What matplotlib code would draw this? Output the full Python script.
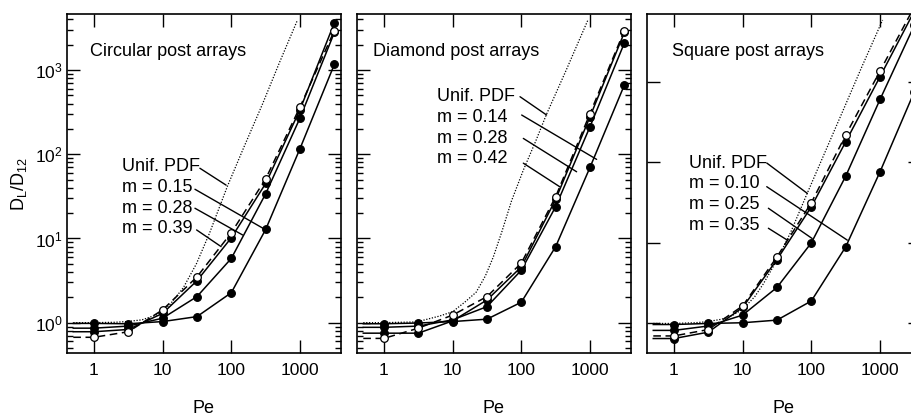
import matplotlib
matplotlib.use("Agg")
import matplotlib.pyplot as plt
from matplotlib.ticker import LogLocator, NullLocator, NullFormatter, FixedLocator

plt.rcParams['font.family'] = ['Liberation Sans', 'DejaVu Sans']
plt.rcParams['mathtext.fontset'] = 'custom'
plt.rcParams['mathtext.rm'] = 'Liberation Sans'
plt.rcParams['mathtext.it'] = 'Liberation Sans'

# Peclet numbers of the simulated points
pe = [1, 3.162, 10, 31.62, 100, 316.2, 1000, 3162]

# circular post arrays
circ_open = [0.67, 0.78, 1.42, 3.5, 11.7, 51, 365, 2950]
circ_m039 = [0.78, 0.83, 1.29, 3.15, 10.2, 45, 340, 3650]
circ_m028 = [0.86, 0.91, 1.13, 2.04, 5.8, 34, 270, 2800]
circ_m015 = [0.98, 0.97, 1.03, 1.18, 2.27, 12.8, 117, 1170]
circ_unif_pe = [0.5, 1, 2, 3, 5, 8, 12.6, 20, 31, 48, 65, 88, 150, 286, 500, 920]
circ_unif = [1.0, 1.0, 1.01, 1.03, 1.08, 1.23, 1.62, 2.6, 5.0, 11.5, 22, 42, 118, 400, 1220, 3950]
circ_labels = ['Unif. PDF', 'm = 0.15', 'm = 0.28', 'm = 0.39']
circ_targets = [(84, 43), (320, 12.6), (146, 11), (71, 8.0)]

# diamond post arrays
diam_open = [0.65, 0.86, 1.23, 2.04, 5.1, 31.4, 305, 2950]
diam_m042 = [0.75, 0.75, 1.05, 1.86, 4.6, 29.2, 280, 2800]
diam_m028 = [0.88, 0.91, 1.08, 1.55, 4.2, 23.9, 213, 2100]
diam_m014 = [0.97, 0.99, 1.03, 1.10, 1.75, 8.0, 70, 665]
diam_unif_pe = [0.5, 1, 3, 6.5, 10, 15, 22, 30, 39, 52, 72, 107, 160, 233, 450, 940]
diam_unif = [1.0, 1.0, 1.02, 1.2, 1.35, 1.75, 2.3, 3.6, 6.0, 12, 28, 65, 140, 300, 1000, 4000]
diam_labels = ['Unif. PDF', 'm = 0.14', 'm = 0.28', 'm = 0.42']
diam_targets = [(233, 293), (1248, 87), (638, 62), (365, 41)]

# square post arrays
sq_open = [0.70, 0.84, 1.65, 6.7, 31.4, 217, 1350, 8500]
sq_m035 = [0.65, 0.78, 1.58, 6.2, 28, 179, 1150, 7500]
sq_m025 = [0.82, 0.93, 1.27, 2.8, 10.0, 67, 600, 5000]
sq_m010 = [0.97, 1.0, 1.02, 1.1, 1.9, 8.9, 76, 750]
sq_unif_pe = [0.5, 1, 2, 3, 5, 7, 10, 15, 20, 31.6, 50, 88, 150, 300, 550, 1090]
sq_unif = [1.0, 1.0, 1.02, 1.05, 1.13, 1.25, 1.5, 2.15, 3.1, 6.1, 13.5, 42, 120, 470, 1560, 5800]
sq_labels = ['Unif. PDF', 'm = 0.10', 'm = 0.25', 'm = 0.35']
sq_targets = [(87.5, 41), (334, 10.8), (103, 11.3), (44.7, 10.8)]

PE_START = 0.5


def draw_series(ax, vals, filled=True, ls='-'):
    xs = [PE_START] + pe
    ys = [vals[0]] + vals
    ax.plot(xs, ys, color='black', lw=1.1, ls=ls, zorder=2)
    ax.plot(pe, vals, ls='none', marker='o', ms=5.5, mec='black', mew=0.9,
            mfc='black' if filled else 'white', zorder=3)


def draw_panel(ax, title, title_x, open_vals, filled_sets, unif_pe, unif,
               labels, targets, text_xy, lead_starts, ylim, minor_y=True):
    ax.plot(unif_pe, unif, color='black', lw=0.9, ls=(0, (1, 1.3)), zorder=2)
    for vals in filled_sets:
        draw_series(ax, vals)
    draw_series(ax, open_vals, filled=False, ls=(0, (5, 3)))

    ax.set_xscale('log')
    ax.set_yscale('log')
    ax.set_xlim(0.405, 3950)
    ax.set_ylim(*ylim)

    ax.xaxis.set_major_locator(FixedLocator([1, 10, 100, 1000]))
    ax.set_xticklabels(['1', '10', '100', '1000'])
    ax.xaxis.set_minor_locator(NullLocator())
    ax.yaxis.set_major_locator(LogLocator(base=10))
    if minor_y:
        ax.yaxis.set_minor_locator(LogLocator(base=10, subs=range(2, 10)))
    else:
        ax.yaxis.set_minor_locator(NullLocator())
    ax.yaxis.set_minor_formatter(NullFormatter())
    ax.tick_params(which='both', direction='in', top=True, right=True, width=1.0)
    ax.tick_params(which='major', length=9.5)
    ax.tick_params(which='minor', length=4.5)
    ax.tick_params(axis='x', labelsize=12.5, pad=7)
    ax.tick_params(axis='y', labelsize=12.5, pad=3)
    for sp in ax.spines.values():
        sp.set_linewidth(1.2)

    ax.set_xlabel('Pe', fontsize=13, labelpad=16)
    ax.text(title_x, 0.89, title, transform=ax.transAxes, fontsize=13,
            va='center', ha='left')

    tx, ty = text_xy
    for i, lab in enumerate(labels):
        ax.text(tx, ty - i * 0.061, lab, transform=ax.transAxes, fontsize=13,
                va='center', ha='left')
        ax.annotate('', xy=targets[i], xycoords='data',
                    xytext=lead_starts[i], textcoords='axes fraction',
                    arrowprops=dict(arrowstyle='-', color='black', lw=1.0,
                                    shrinkA=0, shrinkB=0))


fig = plt.figure(figsize=(9.12, 4.17), dpi=100)
w, h, b = 274 / 912, 339 / 417, 1 - 353 / 417
ax1 = fig.add_axes([67 / 912, b, w, h])
ax2 = fig.add_axes([357 / 912, b, w, h])
ax3 = fig.add_axes([647 / 912, b, w, h])

draw_panel(ax1, 'Circular post arrays', 0.084, circ_open,
           [circ_m039, circ_m028, circ_m015], circ_unif_pe, circ_unif,
           circ_labels, circ_targets, (0.2, 0.549),
           [(0.485, 0.545), (0.467, 0.483), (0.467, 0.427), (0.473, 0.363)],
           (0.436, 4640))
draw_panel(ax2, 'Diamond post arrays', 0.059, diam_open,
           [diam_m042, diam_m028, diam_m014], diam_unif_pe, diam_unif,
           diam_labels, diam_targets, (0.291, 0.756),
           [(0.595, 0.756), (0.601, 0.702), (0.607, 0.633), (0.607, 0.560)],
           (0.436, 4640))
draw_panel(ax3, 'Square post arrays', 0.09, sq_open,
           [sq_m035, sq_m025, sq_m010], sq_unif_pe, sq_unif,
           sq_labels, sq_targets, (0.153, 0.5596),
           [(0.437, 0.5605), (0.437, 0.4906), (0.443, 0.427), (0.443, 0.368)],
           (0.43, 6890), minor_y=False)

ax1.set_ylabel('D$_\\mathregular{L}$/D$_\\mathregular{12}$', fontsize=13, labelpad=4)
ax2.set_yticklabels([])
ax3.set_yticklabels([])

fig.savefig('out.png', dpi=100)
